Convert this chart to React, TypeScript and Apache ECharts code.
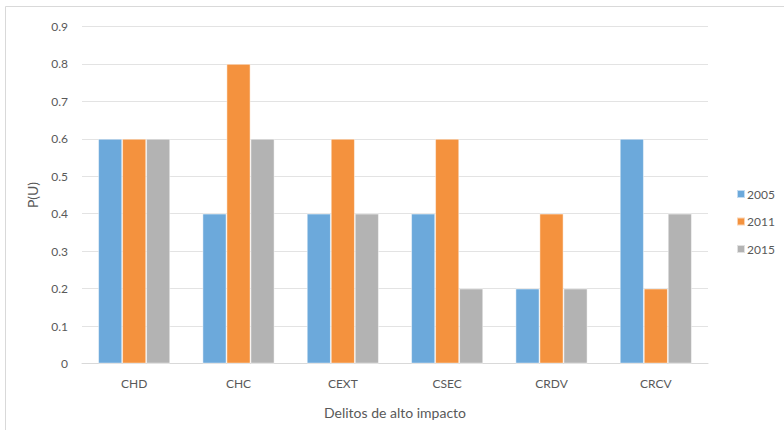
import React, { useEffect, useRef } from "react";
import * as echarts from "echarts";

const categories = ["CHD", "CHC", "CEXT", "CSEC", "CRDV", "CRCV"];
const seriesNames = ["2005", "2011", "2015"];
const values2005 = [0.6, 0.4, 0.4, 0.4, 0.2, 0.6];
const values2011 = [0.6, 0.8, 0.6, 0.6, 0.4, 0.2];
const values2015 = [0.6, 0.6, 0.4, 0.2, 0.2, 0.4];
const colors = ["#6CA9DB", "#F4923E", "#B3B3B3"];

export default function App() {
  const ref = useRef<HTMLDivElement>(null);
  useEffect(() => {
    if (!ref.current) return;
    const chart = echarts.init(ref.current, null, { renderer: "svg" });
    const font = "Lato, 'Open Sans', sans-serif";
    const data = [values2005, values2011, values2015];
    chart.setOption({
      animation: false,
      backgroundColor: "#ffffff",
      textStyle: { fontFamily: font },
      graphic: [
        {
          type: "rect",
          shape: { x: 5.5, y: 6.5, width: 800, height: 440 },
          style: { fill: "none", stroke: "#d9d9d9", lineWidth: 1 },
          silent: true,
        },
      ],
      grid: { left: 82, right: 76, top: 26.5, bottom: 66.5, containLabel: false },
      legend: {
        orient: "vertical",
        left: 731,
        top: 183,
        itemWidth: 8,
        itemHeight: 8,
        itemGap: 15.5,
        icon: "rect",
        textStyle: { color: "#595959", fontSize: 12, fontFamily: font, padding: [0, 0, 0, -3] },
        data: seriesNames,
      },
      xAxis: {
        type: "category",
        data: categories,
        name: "Delitos de alto impacto",
        nameLocation: "middle",
        nameGap: 42,
        nameTextStyle: { color: "#595959", fontSize: 14, fontFamily: font },
        axisLine: { lineStyle: { color: "#d9d9d9", width: 1 } },
        axisTick: { show: false },
        axisLabel: { color: "#595959", fontSize: 12, margin: 14, fontFamily: font },
      },
      yAxis: {
        type: "value",
        min: 0,
        max: 0.9,
        interval: 0.1,
        name: "P(U)",
        nameLocation: "middle",
        nameGap: 43,
        nameRotate: 90,
        nameTextStyle: { color: "#595959", fontSize: 14, fontFamily: font },
        axisLine: { show: false },
        axisTick: { show: false },
        splitLine: { lineStyle: { color: "#e3e3e3", width: 1 } },
        axisLabel: {
          color: "#595959",
          fontSize: 12,
          margin: 14,
          fontFamily: font,
          formatter: (v: number) => (v === 0 ? "0" : v.toFixed(1)),
        },
      },
      series: seriesNames.map((name, i) => ({
        name,
        type: "bar",
        data: data[i],
        barWidth: 24,
        barGap: "0%",
        itemStyle: { color: colors[i], borderColor: "rgba(255,255,255,0.6)", borderWidth: 0.8 },
      })),
    });
    return () => chart.dispose();
  }, []);
  return (
    <div
      ref={ref}
      style={{ position: "absolute", left: 0, top: 0, width: 784, height: 430 }}
    />
  );
}
